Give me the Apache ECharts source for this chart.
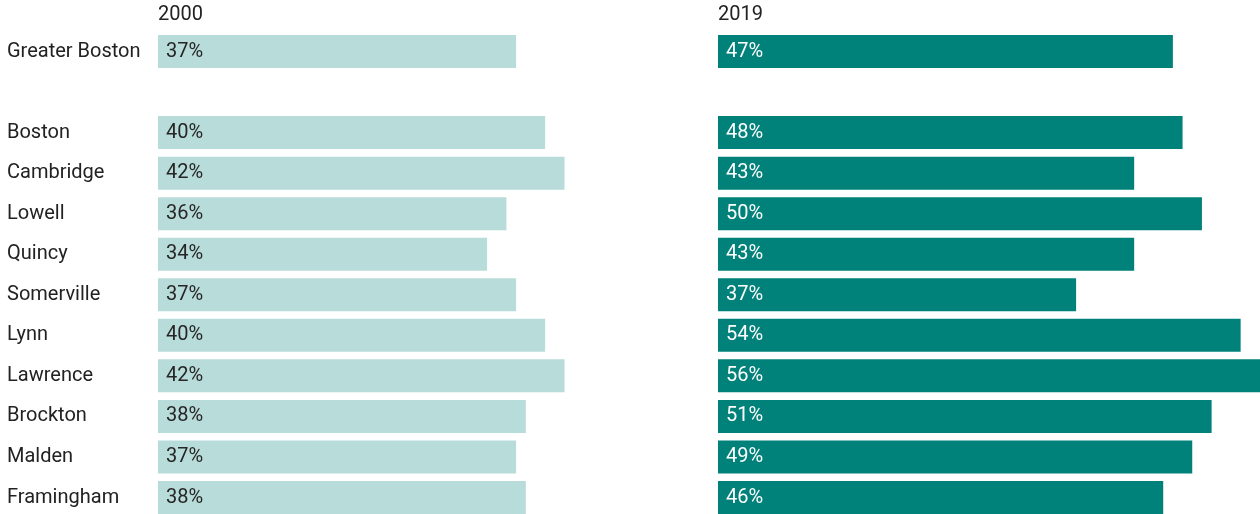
<!DOCTYPE html>
<html>
<head>
<meta charset="utf-8">
<style>html,body{margin:0;padding:0;background:#fff;}#chart{width:1260px;height:514px;}</style>
<script src="https://cdn.jsdelivr.net/npm/echarts@6/dist/echarts.min.js"></script>
</head>
<body>
<div id="chart"></div>
<script>
const categories = ['Greater Boston', '', 'Boston', 'Cambridge', 'Lowell', 'Quincy', 'Somerville', 'Lynn', 'Lawrence', 'Brockton', 'Malden', 'Framingham'];
const values2000 = [37, null, 40, 42, 36, 34, 37, 40, 42, 38, 37, 38];
const values2019 = [47, null, 48, 43, 50, 43, 37, 54, 56, 51, 49, 46];
const panelTitles = ['2000', '2019'];

const chart = echarts.init(document.getElementById('chart'), null, {renderer: 'canvas'});
const font = 'Roboto, "Noto Sans", sans-serif';
const gridTop = 51.5, gridHeight = 446;
chart.setOption({
  animation: false,
  backgroundColor: '#fff',
  title: [
    {text: panelTitles[0], left: 158, top: 5, padding: 0, textStyle: {fontFamily: font, fontSize: 20, fontWeight: 'normal', color: '#222'}},
    {text: panelTitles[1], left: 718, top: 5, padding: 0, textStyle: {fontFamily: font, fontSize: 20, fontWeight: 'normal', color: '#222'}}
  ],
  grid: [
    {left: 158, width: 542, top: gridTop, height: gridHeight, containLabel: false},
    {left: 718, width: 542, top: gridTop, height: gridHeight, containLabel: false}
  ],
  xAxis: [
    {gridIndex: 0, type: 'value', min: 0, max: 56, show: false},
    {gridIndex: 1, type: 'value', min: 0, max: 56, show: false}
  ],
  yAxis: [
    {gridIndex: 0, type: 'category', data: categories, inverse: true, boundaryGap: false,
     axisLine: {show: false}, axisTick: {show: false}, splitLine: {show: false},
     axisLabel: {align: 'left', margin: 151, fontFamily: font, fontSize: 20, color: '#222'}},
    {gridIndex: 1, type: 'category', data: categories, inverse: true, boundaryGap: false, show: false}
  ],
  series: [
    {type: 'bar', xAxisIndex: 0, yAxisIndex: 0, data: values2000, barWidth: 33,
     itemStyle: {color: '#b8dcd9'},
     label: {show: true, position: 'insideLeft', distance: 8, formatter: '{c}%', fontFamily: font, fontSize: 20, color: '#262626'}},
    {type: 'bar', xAxisIndex: 1, yAxisIndex: 1, data: values2019, barWidth: 33,
     itemStyle: {color: '#00827a'},
     label: {show: true, position: 'insideLeft', distance: 8, formatter: '{c}%', fontFamily: font, fontSize: 20, color: '#ffffff'}}
  ]
});
</script>
</body>
</html>
